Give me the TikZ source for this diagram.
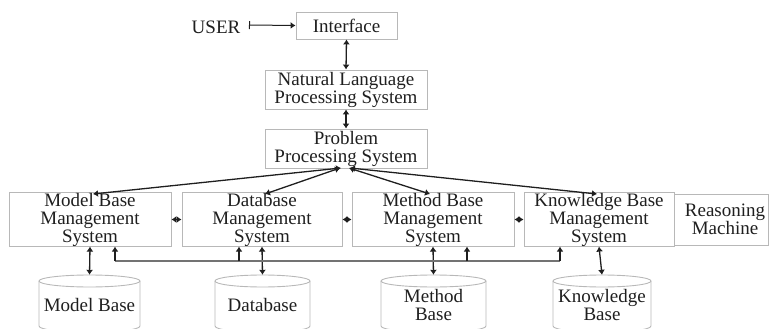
\documentclass[tikz,border=0pt]{standalone}
\usepackage{fontspec}
\setmainfont{Liberation Serif}
\usetikzlibrary{arrows.meta}
\definecolor{edgegray}{gray}{0.72}
\definecolor{inkdark}{gray}{0.12}
\tikzset{
  x=1pt,y=-1pt,
  txt/.style={font=\fontsize{19}{18}\selectfont,text=inkdark,align=center,inner sep=0pt},
  boxn/.style={txt,draw=edgegray,line width=0.9pt,rectangle,minimum width=#1},
  conn/.style={draw=inkdark,line width=1.3pt,{Latex[length=5pt,width=7pt]}-{Latex[length=5pt,width=7pt]}},
  upconn/.style={draw=inkdark,line width=1.3pt,-{Latex[length=5pt,width=7pt]}},
  busline/.style={draw=gray!90!black,line width=1.4pt},
  drumline/.style={draw=edgegray,line width=0.9pt},
  storen/.style={txt,minimum width=#1,minimum height=60pt}
}
% name, centre x, half width, text
\newcommand{\storeunit}[4]{%
  \node[storen=2*#3 pt] (#1) at (#2,305) {#4};
  \draw[drumline] (#2,281) ellipse [x radius=#3pt,y radius=6pt];
  \draw[drumline] (#2-#3,281) -- (#2-#3,326) .. controls (#2-#3,334) and (#2+#3,334) .. (#2+#3,326) -- (#2+#3,281);
}
\begin{document}
\begin{tikzpicture}
\useasboundingbox (0,0) rectangle (769,329);
% boxes
\node[boxn=101pt,minimum height=27pt] (iface) at (346.5,25.5) {Interface};
\node[boxn=162pt,minimum height=39pt] (nlp) at (346,89.5) {Natural Language\\Processing System};
\node[boxn=162pt,minimum height=39pt] (pps) at (346,148.5) {Problem\\Processing System};
\node[boxn=162pt,minimum height=51pt] (mbms) at (90,219.5) {Model Base\\Management\\System};
\node[boxn=160pt,minimum height=51pt] (dbms) at (262,219.5) {Database\\Management\\System};
\node[boxn=162pt,minimum height=51pt] (mtms) at (433,219.5) {Method Base\\Management\\System};
\node[boxn=150pt,minimum height=51pt] (kbms) at (599,219.5) {Knowledge Base\\Management\\System};
\node[boxn=94pt,minimum height=51pt,anchor=west,outer sep=0pt] (rm) at (kbms.east) {};
\node[txt] (rmtext) at (725,219.5) {Reasoning\\Machine};
\node[txt] (user) at (216,27) {USER};
% stores
\storeunit{mb}{89.5}{50.5}{Model Base}
\storeunit{db}{262.5}{47.5}{Database}
\storeunit{mt}{433.5}{52.5}{Method\\Base}
\storeunit{kb}{602}{49}{Knowledge\\Base}
% free ends
\coordinate (ustart) at (249,25);
\coordinate (pl1) at (341,168);
\coordinate (pl2) at (340,168);
\coordinate (pr1) at (349,168);
\coordinate (pr2) at (350,168);
\coordinate (m1) at (93,194);
\coordinate (d1) at (265,194);
\coordinate (t1) at (430,194);
\coordinate (k1) at (597,194);
\coordinate (b1) at (115,261);
\coordinate (b2) at (239,261);
\coordinate (b3) at (467,261);
\coordinate (b4) at (560,261);
% connectors
\draw[draw=inkdark,line width=1pt,{Bar[width=8pt]}-{Latex[length=5pt,width=7pt]}] (ustart) -- (iface.west);
\draw[conn] (iface.south) -- (nlp.north);
\draw[conn] (nlp.south) -- (pps.north);
\draw[conn] (pl1) -- (m1);
\draw[conn] (pl2) -- (d1);
\draw[conn] (pr1) -- (t1);
\draw[conn] (pr2) -- (k1);
\draw[conn] (mbms.east) -- (dbms.west);
\draw[conn] (dbms.east) -- (mtms.west);
\draw[conn] (mtms.east) -- (kbms.west);
\draw[conn] (mbms.south) -- (mb.north);
\draw[conn] (dbms.south) -- (db.north);
\draw[conn] (mtms.south) -- (mt.north);
\draw[conn] (kbms.south) -- (kb.north);
\draw[busline] (b1) -- (b4);
\draw[upconn] (b1) -- (b1 |- mbms.south);
\draw[upconn] (b2) -- (b2 |- dbms.south);
\draw[upconn] (b3) -- (b3 |- mtms.south);
\draw[upconn] (b4) -- (b4 |- kbms.south);
\end{tikzpicture}
\end{document}
